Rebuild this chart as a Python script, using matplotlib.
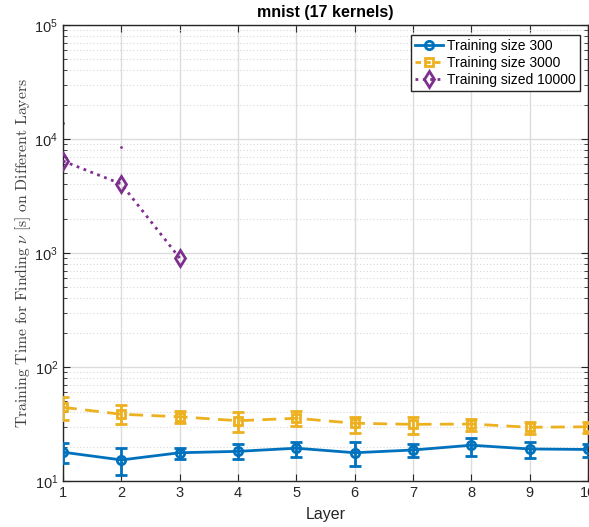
import matplotlib
matplotlib.use("Agg")
import matplotlib.pyplot as plt
import numpy as np
from matplotlib.ticker import LogLocator, NullFormatter
from matplotlib.lines import Line2D

plt.rcParams['mathtext.fontset'] = 'cm'
plt.rcParams['font.family'] = ['Liberation Sans', 'DejaVu Sans']

layers = [1, 2, 3, 4, 5, 6, 7, 8, 9, 10]

# Training size 300
t300 = [17.9, 15.3, 17.7, 18.2, 19.4, 17.7, 18.7, 20.6, 19.1, 18.9]
t300_hi = [21.5, 19.4, 19.6, 21.0, 22.1, 21.8, 21.0, 24.0, 21.8, 21.3]
t300_lo = [14.3, 11.3, 15.6, 15.6, 16.1, 13.5, 16.3, 16.7, 15.8, 16.3]

# Training size 3000
t3000 = [44.3, 38.5, 36.6, 33.8, 35.5, 32.1, 31.4, 31.6, 29.6, 29.9]
t3000_hi = [54.5, 46.1, 41.1, 40.3, 41.1, 36.6, 36.6, 34.8, 32.7, 33.0]
t3000_lo = [34.3, 31.6, 32.1, 26.7, 30.3, 26.5, 25.7, 27.6, 25.8, 26.5]

# Training size 10000
layers10k = [1, 2, 3]
t10000 = [6410, 4030, 903]
t10000_hi = [13800, 8500, 903]

labels = ['Training size 300', 'Training size 3000', 'Training sized 10000']

blue = "#0072BD"
orange = "#EDB120"
purple = "#7E2F8E"

fig = plt.figure(figsize=(5.89, 5.27), dpi=100)
ax = fig.add_axes([63/589, 1-481/527, (588-63)/589, (481-25)/527])

def err(v, hi, lo):
    v = np.array(v); return [v - np.array(lo), np.array(hi) - v]

dash = (0, (5, 3))
ax.errorbar(layers, t300, yerr=err(t300, t300_hi, t300_lo), color=blue, lw=2,
            marker='o', ms=6, mfc='none', mew=2, capsize=4, capthick=2, elinewidth=2, zorder=3)
ax.errorbar(layers, t3000, yerr=err(t3000, t3000_hi, t3000_lo), color=orange, lw=2,
            ls=dash, marker='s', ms=6, mfc='none', mew=2, capsize=4, capthick=2,
            elinewidth=2, zorder=3)
ax.plot(layers10k, t10000, color=purple, lw=2, ls=':', marker='d', ms=8, mfc='none', mew=2,
        zorder=3)
ax.plot(layers10k[:2], t10000_hi[:2], ls='none', marker='o', ms=2, color=purple, mew=0)

ax.set_yscale('log')
ax.set_ylim(10, 1e5)
ax.set_xlim(1, 10)
ax.set_xticks(layers)
ax.set_xticklabels([str(l) for l in layers])
ax.yaxis.set_major_locator(LogLocator(base=10, numticks=10))
ax.yaxis.set_minor_locator(LogLocator(base=10, subs=np.arange(2, 10), numticks=100))
ax.yaxis.set_minor_formatter(NullFormatter())

ax.grid(True, which='major', color='#dcdcdc', lw=1, ls='-')
ax.grid(True, which='minor', axis='y', color='#d8d8d8', lw=0.8, ls=(0, (1, 2)))
ax.set_axisbelow(True)
ax.tick_params(which='both', direction='in', top=True, right=True, colors='#262626',
               labelsize=10.5)
ax.tick_params(which='major', length=5)
ax.tick_params(which='minor', length=3)
for s in ax.spines.values():
    s.set_color('#262626')
    s.set_linewidth(1)

ax.set_title('mnist (17 kernels)', fontsize=11.5, fontweight='bold', pad=6)
ax.set_xlabel('Layer', fontsize=11.5, color='#262626', labelpad=5)
ax.set_ylabel(r'$\mathrm{Training\ Time\ for\ Finding}\ \nu\ \mathrm{[s]\ on\ Different\ Layers}$',
              fontsize=11.3, color='#404040', labelpad=1)

handles = [
    Line2D([], [], color=blue, lw=2, marker='o', ms=6, mfc='none', mew=2),
    Line2D([], [], color=orange, lw=2, ls=(0, (2, 1.5)), marker='s', ms=6, mfc='none', mew=2),
    Line2D([], [], color=purple, lw=2, ls=':', marker='d', ms=8, mfc='none', mew=2),
]
leg = ax.legend(handles=handles, labels=labels, loc='upper right',
                bbox_to_anchor=(0.9985, 0.993),
                fontsize=10, frameon=True, fancybox=False, edgecolor='#262626', framealpha=1,
                handlelength=2.0, borderpad=0.3, labelspacing=0.2, handletextpad=0.3)
leg.get_frame().set_linewidth(1)

fig.savefig('out.png', dpi=100)
